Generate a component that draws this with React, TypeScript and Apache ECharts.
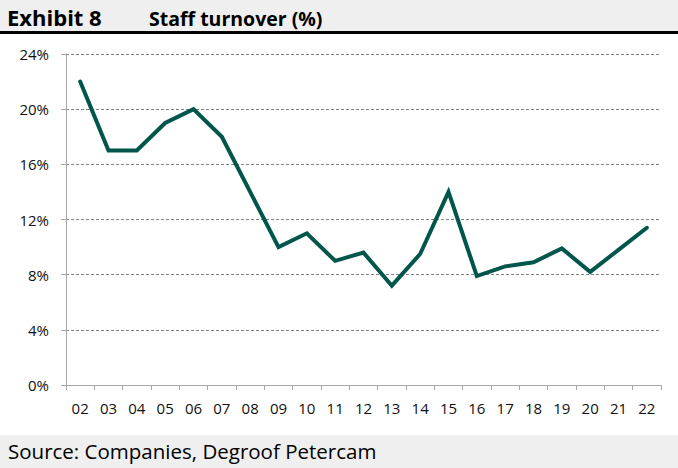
import React, { useEffect, useRef } from "react";
import * as echarts from "echarts";

const years = ["02","03","04","05","06","07","08","09","10","11","12","13","14","15","16","17","18","19","20","21","22"];
const turnover = [22, 17, 17, 19, 20, 18, 14, 10, 11, 9, 9.6, 7.2, 9.5, 14, 7.9, 8.6, 8.9, 9.9, 8.2, 9.8, 11.4];
const titleLabel = "Exhibit 8";
const titleText = "Staff turnover (%)";
const sourceText = "Source: Companies, Degroof Petercam";

const FONT = "'Open Sans', 'Noto Sans', sans-serif";

export default function App() {
  const ref = useRef<HTMLDivElement>(null);
  useEffect(() => {
    document.body.style.margin = "0";
    const chart = echarts.init(ref.current!, null, { renderer: "svg" });
    chart.setOption({
      animation: false,
      backgroundColor: "#ffffff",
      grid: { left: 66, right: 17, top: 54, bottom: 83 },
      xAxis: {
        type: "category",
        data: years,
        boundaryGap: true,
        axisLine: { lineStyle: { color: "#a6a6a6", width: 1 } },
        axisTick: { show: true, alignWithLabel: false, length: 5, lineStyle: { color: "#a6a6a6" } },
        axisLabel: { color: "#111", fontSize: 15, fontFamily: FONT, margin: 15, interval: 0 },
      },
      yAxis: {
        type: "value",
        min: 0,
        max: 24,
        interval: 4,
        axisLine: { show: true, lineStyle: { color: "#a6a6a6", width: 1 } },
        axisTick: { show: true, length: 5, lineStyle: { color: "#a6a6a6" } },
        axisLabel: { color: "#111", fontSize: 15, fontFamily: FONT, margin: 17, formatter: "{value}%" },
        splitLine: { show: true, lineStyle: { color: "#808080", type: [3, 2], width: 1 } },
      },
      series: [
        {
          type: "line",
          data: turnover,
          symbol: "none",
          lineStyle: { color: "#00564a", width: 4, cap: "round", join: "miter" },
        },
      ],
      graphic: [
        { type: "rect", left: 0, top: 0, shape: { width: 678, height: 32 }, style: { fill: "#efefef" }, silent: true },
        { type: "rect", left: 0, top: 31, shape: { width: 678, height: 3 }, style: { fill: "#000000" }, silent: true },
        { type: "text", x: 7, y: 17, style: { text: titleLabel, font: `bold 22px ${FONT}`, fill: "#000", verticalAlign: "middle" } },
        { type: "text", x: 149, y: 18, style: { text: titleText, font: `bold 19.5px ${FONT}`, fill: "#000", verticalAlign: "middle" } },
        { type: "rect", left: 0, top: 435, shape: { width: 678, height: 33 }, style: { fill: "#efefef" }, silent: true },
        { type: "text", x: 8, y: 451, style: { text: sourceText, font: `20.5px ${FONT}`, fill: "#000", verticalAlign: "middle" } },
      ],
    });
    return () => chart.dispose();
  }, []);
  return <div ref={ref} style={{ position: "fixed", left: 0, top: 0, width: 678, height: 468 }} />;
}
